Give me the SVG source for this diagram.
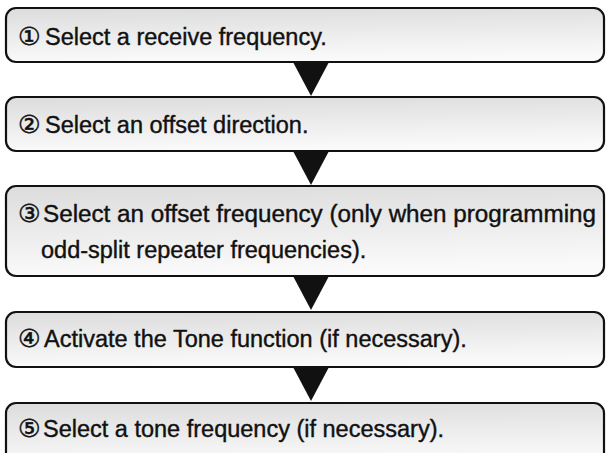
<svg xmlns="http://www.w3.org/2000/svg" width="607" height="453" viewBox="0 0 607 453">
<style>
.box{fill:url(#g);stroke:#111;stroke-width:2.2}
.t{font-family:"Liberation Sans","DejaVu Sans",Arial,sans-serif;font-size:23.5px;fill:#111;stroke:#111;stroke-width:0.4}
.n{font-family:"DejaVu Sans","Liberation Sans",sans-serif;font-size:25px;font-weight:normal;fill:#111;stroke:#111;stroke-width:0.5}
.arr{fill:#111}
</style>
<defs>
<linearGradient id="g" x1="0" y1="0" x2="0.15" y2="1">
<stop offset="0" stop-color="#dcdcdc"/>
<stop offset="1" stop-color="#fafafa"/>
</linearGradient>
</defs>
<rect width="607" height="453" fill="#fff"/>
<g id="connectors">
<polygon class="arr" points="293,62 329,62 311,96"/>
<polygon class="arr" points="293,151 329,151 311,185"/>
<polygon class="arr" points="293,276 329,276 311,310"/>
<polygon class="arr" points="293,367 329,367 311,401"/>
</g>
<g id="step1">
<rect class="box" x="6" y="8" width="598" height="54" rx="10"/>
<text class="n" x="18" y="45">①</text>
<text class="t" x="45" y="45">Select a receive frequency.</text>
</g>
<g id="step2">
<rect class="box" x="6" y="97" width="598" height="54" rx="10"/>
<text class="n" x="18" y="133">②</text>
<text class="t" x="45" y="133">Select an offset direction.</text>
</g>
<g id="step3">
<rect class="box" x="6" y="186" width="598" height="90" rx="10"/>
<text class="n" x="18" y="222">③</text>
<text class="t" x="43" y="222" textLength="553" lengthAdjust="spacingAndGlyphs">Select an offset frequency (only when programming</text>
<text class="t" x="41" y="258">odd-split repeater frequencies).</text>
</g>
<g id="step4">
<rect class="box" x="6" y="312" width="598" height="55" rx="10"/>
<text class="n" x="18" y="347">④</text>
<text class="t" x="44" y="347">Activate the Tone function (if necessary).</text>
</g>
<g id="step5">
<rect class="box" x="6" y="403" width="598" height="62" rx="10"/>
<text class="n" x="18" y="437">⑤</text>
<text class="t" x="43" y="437">Select a tone frequency (if necessary).</text>
</g>
</svg>
